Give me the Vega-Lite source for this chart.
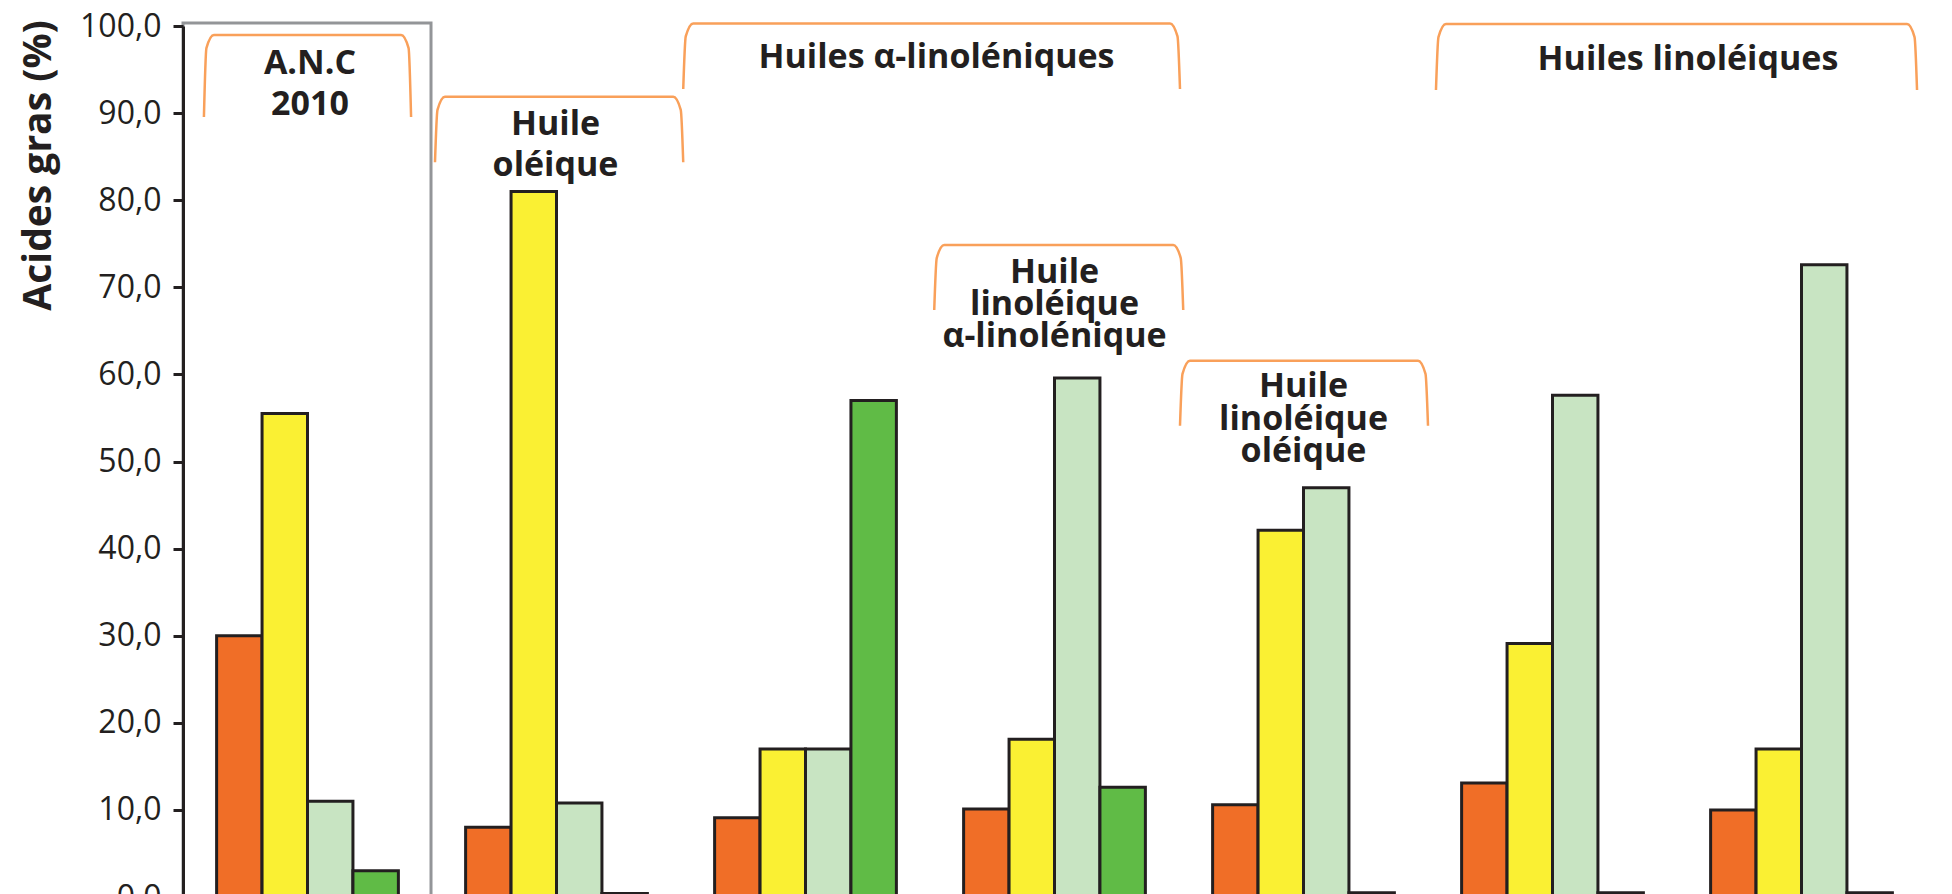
{
  "$schema": "https://vega.github.io/schema/vega-lite/v6.json",
  "autosize": "none",
  "width": 1743,
  "height": 894,
  "padding": {"left": 183, "top": 0, "right": 26, "bottom": 0},
  "background": "#ffffff",
  "config": {"view": {"stroke": null}},
  "datasets": {
    "bars": [
      {"groupe": "ANC 2010", "acide": "Acides gras saturés", "valeur": 30.0},
      {"groupe": "ANC 2010", "acide": "Acide oléique", "valeur": 55.5},
      {"groupe": "ANC 2010", "acide": "Acide linoléique", "valeur": 11.0},
      {"groupe": "ANC 2010", "acide": "Acide α-linolénique", "valeur": 3.0},
      {"groupe": "Huile oléique", "acide": "Acides gras saturés", "valeur": 8.0},
      {"groupe": "Huile oléique", "acide": "Acide oléique", "valeur": 81.0},
      {"groupe": "Huile oléique", "acide": "Acide linoléique", "valeur": 10.8},
      {"groupe": "Huile oléique", "acide": "Acide α-linolénique", "valeur": 0.4},
      {"groupe": "Huile α-linolénique", "acide": "Acides gras saturés", "valeur": 9.1},
      {"groupe": "Huile α-linolénique", "acide": "Acide oléique", "valeur": 17.0},
      {"groupe": "Huile α-linolénique", "acide": "Acide linoléique", "valeur": 17.0},
      {"groupe": "Huile α-linolénique", "acide": "Acide α-linolénique", "valeur": 57.0},
      {"groupe": "Huile linoléique α-linolénique", "acide": "Acides gras saturés", "valeur": 10.1},
      {"groupe": "Huile linoléique α-linolénique", "acide": "Acide oléique", "valeur": 18.1},
      {"groupe": "Huile linoléique α-linolénique", "acide": "Acide linoléique", "valeur": 59.6},
      {"groupe": "Huile linoléique α-linolénique", "acide": "Acide α-linolénique", "valeur": 12.6},
      {"groupe": "Huile linoléique oléique", "acide": "Acides gras saturés", "valeur": 10.6},
      {"groupe": "Huile linoléique oléique", "acide": "Acide oléique", "valeur": 42.1},
      {"groupe": "Huile linoléique oléique", "acide": "Acide linoléique", "valeur": 47.0},
      {"groupe": "Huile linoléique oléique", "acide": "Acide α-linolénique", "valeur": 0.5},
      {"groupe": "Huile linoléique A", "acide": "Acides gras saturés", "valeur": 13.1},
      {"groupe": "Huile linoléique A", "acide": "Acide oléique", "valeur": 29.1},
      {"groupe": "Huile linoléique A", "acide": "Acide linoléique", "valeur": 57.6},
      {"groupe": "Huile linoléique A", "acide": "Acide α-linolénique", "valeur": 0.5},
      {"groupe": "Huile linoléique B", "acide": "Acides gras saturés", "valeur": 10.0},
      {"groupe": "Huile linoléique B", "acide": "Acide oléique", "valeur": 17.0},
      {"groupe": "Huile linoléique B", "acide": "Acide linoléique", "valeur": 72.6},
      {"groupe": "Huile linoléique B", "acide": "Acide α-linolénique", "valeur": 0.5}
    ],
    "box": [
      {"u": -0.5, "u2": 0.496, "v": 100.35, "v2": -3}
    ],
    "brackets": [
      {"b": 1, "i": 1, "u": -0.416, "v": 89.55},
      {"b": 1, "i": 2, "u": -0.406, "v": 97.47},
      {"b": 1, "i": 3, "u": -0.376, "v": 98.97},
      {"b": 1, "i": 4, "u": 0.376, "v": 98.97},
      {"b": 1, "i": 5, "u": 0.406, "v": 97.47},
      {"b": 1, "i": 6, "u": 0.416, "v": 89.55},
      {"b": 2, "i": 1, "u": 0.512, "v": 84.35},
      {"b": 2, "i": 2, "u": 0.522, "v": 90.38},
      {"b": 2, "i": 3, "u": 0.552, "v": 91.88},
      {"b": 2, "i": 4, "u": 1.469, "v": 91.88},
      {"b": 2, "i": 5, "u": 1.499, "v": 90.38},
      {"b": 2, "i": 6, "u": 1.509, "v": 84.35},
      {"b": 3, "i": 1, "u": 1.509, "v": 92.77},
      {"b": 3, "i": 2, "u": 1.519, "v": 98.8},
      {"b": 3, "i": 3, "u": 1.549, "v": 100.3},
      {"b": 3, "i": 4, "u": 3.464, "v": 100.3},
      {"b": 3, "i": 5, "u": 3.494, "v": 98.8},
      {"b": 3, "i": 6, "u": 3.504, "v": 92.77},
      {"b": 4, "i": 1, "u": 2.517, "v": 67.39},
      {"b": 4, "i": 2, "u": 2.527, "v": 73.36},
      {"b": 4, "i": 3, "u": 2.557, "v": 74.86},
      {"b": 4, "i": 4, "u": 3.477, "v": 74.86},
      {"b": 4, "i": 5, "u": 3.507, "v": 73.36},
      {"b": 4, "i": 6, "u": 3.517, "v": 67.39},
      {"b": 5, "i": 1, "u": 3.504, "v": 54.11},
      {"b": 5, "i": 2, "u": 3.514, "v": 60.07},
      {"b": 5, "i": 3, "u": 3.544, "v": 61.57},
      {"b": 5, "i": 4, "u": 4.46, "v": 61.57},
      {"b": 5, "i": 5, "u": 4.49, "v": 60.07},
      {"b": 5, "i": 6, "u": 4.5, "v": 54.11},
      {"b": 6, "i": 1, "u": 4.532, "v": 92.65},
      {"b": 6, "i": 2, "u": 4.542, "v": 98.73},
      {"b": 6, "i": 3, "u": 4.572, "v": 100.23},
      {"b": 6, "i": 4, "u": 6.424, "v": 100.23},
      {"b": 6, "i": 5, "u": 6.454, "v": 98.73},
      {"b": 6, "i": 6, "u": 6.464, "v": 92.65}
    ],
    "labels": [
      {"texte": "A.N.C", "u": 0.01, "v": 94.49},
      {"texte": "2010", "u": 0.01, "v": 89.78},
      {"texte": "Huile", "u": 0.996, "v": 87.49},
      {"texte": "oléique", "u": 0.996, "v": 82.78},
      {"texte": "Huiles α-linoléniques", "u": 2.526, "v": 95.18},
      {"texte": "Huile", "u": 3.0, "v": 70.46},
      {"texte": "linoléique", "u": 3.0, "v": 66.82},
      {"texte": "α-linolénique", "u": 3.0, "v": 63.18},
      {"texte": "Huile", "u": 4.0, "v": 57.44},
      {"texte": "linoléique", "u": 4.0, "v": 53.62},
      {"texte": "oléique", "u": 4.0, "v": 49.98},
      {"texte": "Huiles linoléiques", "u": 5.544, "v": 94.95}
    ]
  },
  "resolve": {"scale": {"x": "independent"}},
  "layer": [
    {
      "data": {"name": "bars"},
      "mark": {"type": "bar", "stroke": "#231f20", "strokeWidth": 3},
      "encoding": {
        "x": {
          "field": "groupe", "type": "nominal", "sort": null,
          "scale": {"paddingInner": 0.27, "paddingOuter": 0.135},
          "axis": null
        },
        "xOffset": {
          "field": "acide", "type": "nominal", "sort": null,
          "scale": {"paddingInner": 0, "paddingOuter": 0}
        },
        "y": {
          "field": "valeur", "type": "quantitative",
          "scale": {"domain": [0, 100], "range": [897, 26], "nice": false, "zero": true},
          "axis": {
            "values": [0, 10, 20, 30, 40, 50, 60, 70, 80, 90, 100],
            "labelExpr": "replace(format(datum.value, '.1f'), '.', ',')",
            "labelFont": "Open Sans",
            "labelFontSize": 32,
            "labelColor": "#231f20",
            "labelPadding": 12,
            "domainColor": "#231f20",
            "domainWidth": 3,
            "tickColor": "#231f20",
            "tickWidth": 3,
            "tickSize": 10,
            "grid": false,
            "zindex": 1,
            "title": "Acides gras (%)",
            "titleFont": "Open Sans",
            "titleFontSize": 39,
            "titleFontWeight": "bold",
            "titleColor": "#231f20",
            "titleAngle": -90,
            "titleX": -145,
            "titleY": 165,
            "titleAlign": "center",
            "titleBaseline": "middle"
          }
        },
        "color": {
          "field": "acide", "type": "nominal", "sort": null,
          "scale": {
            "domain": ["Acides gras saturés", "Acide oléique", "Acide linoléique", "Acide α-linolénique"],
            "range": ["#f06e27", "#faf033", "#c8e4c2", "#60bb46"]
          },
          "legend": null
        }
      }
    },
    {
      "layer": [
        {
          "data": {"name": "box"},
          "mark": {"type": "rect", "fill": "transparent", "stroke": "#939598", "strokeWidth": 3},
          "encoding": {
            "x": {"field": "u", "type": "quantitative", "scale": {"domain": [-0.5, 6.5], "nice": false, "zero": false}, "axis": null},
            "x2": {"field": "u2"},
            "y": {"field": "v", "type": "quantitative"},
            "y2": {"field": "v2"}
          }
        },
        {
          "data": {"name": "brackets"},
          "mark": {"type": "line", "stroke": "#f9a05a", "strokeWidth": 2.5, "interpolate": "monotone"},
          "encoding": {
            "x": {"field": "u", "type": "quantitative", "scale": {"domain": [-0.5, 6.5], "nice": false, "zero": false}, "axis": null},
            "y": {"field": "v", "type": "quantitative"},
            "detail": {"field": "b", "type": "nominal"},
            "order": {"field": "i", "type": "quantitative"}
          }
        },
        {
          "data": {"name": "labels"},
          "mark": {"type": "text", "font": "Open Sans", "fontSize": 34, "fontWeight": "bold", "color": "#231f20", "align": "center", "baseline": "alphabetic"},
          "encoding": {
            "x": {"field": "u", "type": "quantitative", "scale": {"domain": [-0.5, 6.5], "nice": false, "zero": false}, "axis": null},
            "y": {"field": "v", "type": "quantitative"},
            "text": {"field": "texte", "type": "nominal"}
          }
        }
      ]
    }
  ]
}
